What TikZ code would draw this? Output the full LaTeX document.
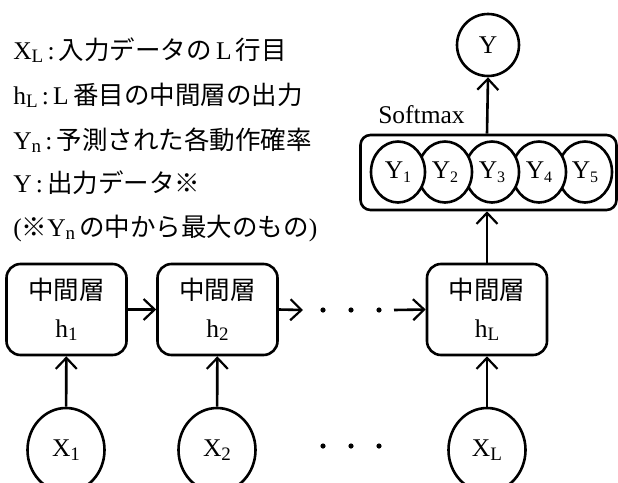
\documentclass[tikz,border=0pt]{standalone}
\usepackage{fontspec}
\setmainfont{Liberation Serif}
\newfontfamily\jp{Noto Sans CJK JP}
\usetikzlibrary{arrows.meta,shapes.geometric}

% lowered index, as in the reference
\newcommand\lo[1]{\raisebox{-0.3ex}{\fontsize{19}{19}\selectfont #1}}
\newcommand\ysub[1]{\raisebox{-0.3ex}{\fontsize{16}{16}\selectfont #1}}
\newcommand\colsep{\,:\,}

\begin{document}
\begin{tikzpicture}[x=1pt, y=-1pt, line width=2.6pt,
  >={Straight Barb[length=11pt,width=21pt,line width=2.2pt]},
  layer/.style={draw, rounded corners=14pt, minimum width=120pt, minimum height=91pt, inner sep=0pt, align=center},
  io/.style={draw, ellipse, minimum width=77pt, minimum height=84pt, inner sep=0pt},
  prob/.style={draw, ellipse, fill=white, minimum width=54pt, minimum height=61pt, inner sep=0pt},
  note/.style={anchor=base west, inner sep=0pt}]

  \useasboundingbox (0,0) rectangle (618,482);
  \fontsize{25.5}{30}\selectfont

  % legend
  \node[note] (n1) at (12,59)  {X\lo{L}\colsep{\jp 入力データの}\,L\,{\jp 行目}};
  \node[note] (n2) at (12,104) {h\lo{L}\colsep L\,{\jp 番目の中間層の出力}};
  \node[note] (n3) at (12,149) {Y\lo{n}\colsep{\jp 予測された各動作確率}};
  \node[note] (n4) at (12,192) {Y\colsep{\jp 出力データ※}};
  \node[note] (n5) at (12,236) {({\jp ※}Y\lo{n}\,{\jp の中から最大のもの})};

  % output side
  \node[draw, circle, minimum size=62pt, inner sep=0pt] (y) at (488,45) {Y};
  \node[draw, rounded corners=10pt, minimum width=256pt, minimum height=75pt] (sm) at (488.5,172.5) {};
  \node[note] (smlabel) at (377,123) {Softmax};

  \node[prob] (y5) at (585,172) {Y\ysub{5}};
  \node[prob] (y4) at (539,172) {Y\ysub{4}};
  \node[prob] (y3) at (492,172) {Y\ysub{3}};
  \node[prob] (y2) at (445,172) {Y\ysub{2}};
  \node[prob] (y1) at (398,172) {Y\ysub{1}};

  % hidden layers
  \node[layer] (h1) at (66.5,309.5) {{\jp 中間層}\\[8pt] h\lo{1}};
  \node[layer] (h2) at (217.5,309.5) {{\jp 中間層}\\[8pt] h\lo{2}};
  \node[layer] (hL) at (487,309.5) {{\jp 中間層}\\[8pt] h\lo{L}};

  % inputs
  \node[io] (x1) at (66,450) {X\lo{1}};
  \node[io] (x2) at (217,450) {X\lo{2}};
  \node[io] (xL) at (487,450) {X\lo{L}};

  \coordinate (gap1) at (303,310);
  \coordinate (gap2) at (394,310);

  \foreach \x in {323,351,379} {
    \fill (\x,310) circle (2.6pt);
    \fill (\x,446) circle (2.6pt);
  }

  \draw[->] (h1.east) -- (h2.west);
  \draw[->] (h2.east) -- (gap1);
  \draw[->] (gap2) -- (hL.west);

  \draw[->] (x1) -- (h1);
  \draw[->] (x2) -- (h2);
  \draw[->] (xL) -- (hL);

  \draw[->] (hL.north) -- (hL.north |- sm.south);
  \draw[->] (hL.north |- sm.north) -- (y.south);
\end{tikzpicture}
\end{document}
